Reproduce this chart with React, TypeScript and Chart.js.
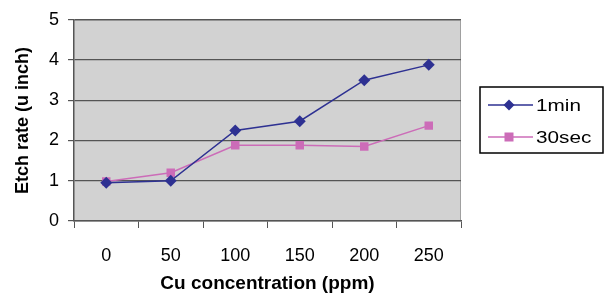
import React, { useEffect, useRef } from "react";
import { Chart, registerables } from "chart.js";

Chart.register(...registerables);

const categories = ["0", "50", "100", "150", "200", "250"];
const oneMin = [0.95, 1.0, 2.25, 2.48, 3.5, 3.88];
const thirtySec = [0.98, 1.2, 1.88, 1.88, 1.85, 2.37];
const seriesNames = ["1min", "30sec"];
const yTitle = "Etch rate (u inch)";
const xTitle = "Cu concentration (ppm)";

const FONT = "'Liberation Sans', Arial, sans-serif";
const BLUE = "#2E3192";
const PINK = "#CC6CB8";

export default function App() {
  const ref = useRef<HTMLCanvasElement | null>(null);
  useEffect(() => {
    document.body.style.margin = "0";
    const canvas = ref.current!;
    const bgPlugin = {
      id: "bg",
      beforeDraw(chart: any) {
        const { ctx, chartArea: a } = chart;
        ctx.save();
        ctx.fillStyle = "#D2D2D2";
        ctx.fillRect(a.left, a.top, a.right - a.left, a.bottom - a.top);
        ctx.strokeStyle = "#A0A0A0";
        ctx.lineWidth = 1;
        ctx.beginPath();
        ctx.moveTo(a.left, a.top + 0.5);
        ctx.lineTo(a.right, a.top + 0.5);
        ctx.moveTo(a.right - 0.5, a.top);
        ctx.lineTo(a.right - 0.5, a.bottom);
        ctx.stroke();
        ctx.restore();
      },
      afterDraw(chart: any) {
        const { ctx } = chart;
        ctx.save();
        const bx = 480, by = 87, bw = 123, bh = 66;
        ctx.fillStyle = "#fff";
        ctx.fillRect(bx, by, bw, bh);
        ctx.strokeStyle = "#000";
        ctx.lineWidth = 1.5;
        ctx.strokeRect(bx, by, bw, bh);
        const items = [
          { name: seriesNames[0], color: BLUE, style: "diamond", y: by + 18 },
          { name: seriesNames[1], color: PINK, style: "square", y: by + 50 },
        ];
        for (const it of items) {
          ctx.strokeStyle = it.color;
          ctx.lineWidth = 1.5;
          ctx.beginPath();
          ctx.moveTo(bx + 8, it.y);
          ctx.lineTo(bx + 53, it.y);
          ctx.stroke();
          ctx.fillStyle = it.color;
          const cx = bx + 29;
          if (it.style === "diamond") {
            ctx.beginPath();
            ctx.moveTo(cx, it.y - 5.5);
            ctx.lineTo(cx + 5.5, it.y);
            ctx.lineTo(cx, it.y + 5.5);
            ctx.lineTo(cx - 5.5, it.y);
            ctx.closePath();
            ctx.fill();
          } else {
            ctx.fillRect(cx - 4.5, it.y - 4.5, 9, 9);
          }
          ctx.fillStyle = "#000";
          ctx.font = `17px ${FONT}`;
          ctx.textBaseline = "middle";
          ctx.textAlign = "left";
          ctx.save();
          ctx.translate(bx + 56, it.y + 1);
          ctx.scale(1.22, 1);
          ctx.fillText(it.name, 0, 0);
          ctx.restore();
        }
        ctx.restore();
      },
    };
    const chart = new Chart(canvas, {
      type: "line",
      data: {
        labels: categories,
        datasets: [
          {
            label: seriesNames[0],
            data: oneMin,
            borderColor: BLUE,
            backgroundColor: BLUE,
            borderWidth: 1.5,
            pointStyle: "rectRot",
            pointRadius: 6,
            pointBorderWidth: 0,
          },
          {
            label: seriesNames[1],
            data: thirtySec,
            borderColor: PINK,
            backgroundColor: PINK,
            borderWidth: 1.5,
            pointStyle: "rect",
            pointRadius: 6,
            pointBorderWidth: 0,
          },
        ],
      },
      options: {
        animation: false,
        responsive: false,
        devicePixelRatio: 1,
        layout: { padding: { top: 19, right: 144, left: 0, bottom: 0 } },
        plugins: { legend: { display: false }, tooltip: { enabled: false } },
        scales: {
          x: {
            type: "category",
            offset: true,
            grid: {
              offset: true,
              drawOnChartArea: false,
              drawTicks: true,
              tickLength: 7,
              color: "#555",
            },
            border: { color: "#555", width: 1.5 },
            ticks: { color: "#000", font: { family: FONT, size: 18 }, padding: 17 },
            title: {
              display: true,
              text: xTitle,
              color: "#000",
              font: { family: FONT, size: 19, weight: "bold" },
              padding: { top: 4, bottom: 6 },
            },
            afterFit(scale: any) {
              scale.height = 80;
            },
          },
          y: {
            min: 0,
            max: 5,
            ticks: { stepSize: 1, color: "#000", font: { family: FONT, size: 18 }, padding: 9 },
            grid: { color: "#555", lineWidth: 1.2, tickLength: 6, drawTicks: true },
            border: { color: "#555", width: 1.5 },
            title: {
              display: true,
              text: yTitle,
              color: "#000",
              font: { family: FONT, size: 18, weight: "bold" },
              padding: { top: 12, bottom: 4 },
            },
            afterFit(scale: any) {
              scale.width = 74;
            },
          },
        },
      },
      plugins: [bgPlugin],
    } as any);
    return () => chart.destroy();
  }, []);
  return (
    <div style={{ width: 605, height: 301 }}>
      <canvas ref={ref} width={605} height={301} style={{ display: "block" }} />
    </div>
  );
}
